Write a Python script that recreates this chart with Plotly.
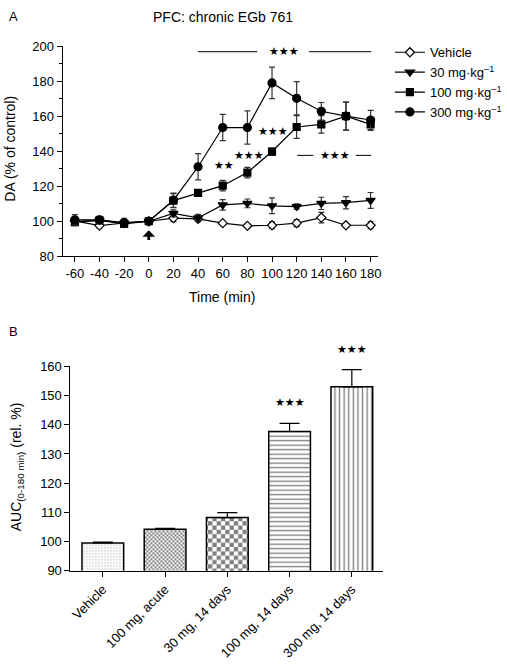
import plotly.graph_objects as go

# ---------------- data ----------------
time_min = [-60, -40, -20, 0, 20, 40, 60, 80, 100, 120, 140, 160, 180]
time_labels = ["-60", "-40", "-20", "0", "20", "40", "60", "80", "100", "120", "140", "160", "180"]

vehicle_mean = [100.2, 97.5, 99.0, 100, 101.8, 101.3, 98.9, 97.4, 97.7, 98.9, 102.1, 97.7, 97.7]
vehicle_sem = [1.5, 1.5, 1.5, 0, 2.0, 1.5, 1.0, 1.0, 2.0, 2.0, 3.0, 1.0, 2.0]

mg30_mean = [100.0, 100.5, 99.0, 100, 104.5, 101.9, 109.3, 110.2, 108.8, 108.4, 110.2, 110.6, 111.9]
mg30_sem = [2.0, 1.5, 2.0, 0, 2.0, 2.0, 3.0, 2.5, 4.5, 1.5, 3.5, 3.5, 4.5]

mg100_mean = [99.5, 100.5, 98.5, 100, 111.8, 116.2, 120.3, 127.8, 139.8, 153.8, 155.3, 160.0, 155.3]
mg100_sem = [2.0, 1.5, 2.0, 0, 4.0, 1.5, 3.0, 3.0, 2.0, 6.5, 5.0, 8.0, 3.5]

mg300_mean = [100.8, 100.8, 99.2, 100, 112.0, 131.1, 153.5, 153.5, 179.0, 170.2, 162.8, 160.0, 157.8]
mg300_sem = [3.0, 2.0, 2.5, 0, 4.0, 7.5, 7.5, 9.5, 9.0, 9.5, 5.0, 8.0, 5.5]

series_names = ["Vehicle", "30 mg·kg<sup>–1</sup>", "100 mg·kg<sup>–1</sup>", "300 mg·kg<sup>–1</sup>"]

bar_labels = ["Vehicle", "100 mg, acute", "30 mg, 14 days", "100 mg, 14 days", "300 mg, 14 days"]
auc_mean = [99.5, 104.2, 108.2, 137.7, 153.0]
auc_sem = [0.3, 0.3, 1.7, 2.8, 5.9]

# significance marks (panel A): (x, y, text)
sig_text_a = [(110, 196.8, "★★★"), (61, 131.7, "★★"), (81, 137.6, "★★★"),
              (101, 151.0, "★★★"), (151, 137.6, "★★★")]
# significance bracket lines (panel A): (x0, x1, y)
sig_lines_a = [(40, 88, 196.8), (130, 180.5, 196.8), (120.5, 133.5, 137.6), (168, 180.5, 137.6)]
# significance marks (panel B): (bar index, value, text)
sig_text_b = [(3, 147.8, "★★★"), (4, 165.8, "★★★")]

W, H = 507, 667
def px(x): return x / W
def py(y): return 1 - y / H

# panel B y axis geometry (pixels)
B_TOP, B_BOT, B_MIN, B_MAX = 367.7, 576.7, 90, 160
def b_paper_y(v):
    return py(B_BOT - (v - B_MIN) * (B_BOT - B_TOP) / (B_MAX - B_MIN))

FONT = "Liberation Sans, Arial, sans-serif"
fig = go.Figure()

styles = [
    dict(symbol="diamond", size=7, color="white"),
    dict(symbol="triangle-down", size=8, color="black"),
    dict(symbol="square", size=7, color="black"),
    dict(symbol="circle", size=8, color="black"),
]
means = [vehicle_mean, mg30_mean, mg100_mean, mg300_mean]
sems = [vehicle_sem, mg30_sem, mg100_sem, mg300_sem]
for name, m, s, st in zip(series_names, means, sems, styles):
    fig.add_trace(go.Scatter(
        x=time_min, y=m, name=name, mode="lines+markers",
        line=dict(color="black", width=1.2),
        marker=dict(symbol=st["symbol"], size=st["size"], color=st["color"],
                    line=dict(color="black", width=1.2)),
        error_y=dict(type="data", array=s, color="#333", thickness=1.2, width=3),
        xaxis="x", yaxis="y", cliponaxis=False))

patterns = [
    dict(shape=".", size=3, solidity=0.15, fgcolor="#555", bgcolor="white"),
    dict(path="M0,0H2V2H0ZM2,2H4V4H2Z", size=4, fgcolor="black", bgcolor="white"),
    dict(path="M0,0H4.3V4.3H0ZM4.3,4.3H8.6V8.6H4.3Z", size=8.6, fgcolor="black", bgcolor="white"),
    dict(shape="-", size=4.5, solidity=0.3, fgcolor="black", bgcolor="white"),
    dict(shape="|", size=4.6, solidity=0.3, fgcolor="black", bgcolor="white"),
]
for lab, v, e, pat in zip(bar_labels, auc_mean, auc_sem, patterns):
    fig.add_trace(go.Bar(
        x=[lab], y=[v], width=0.67, showlegend=False,
        marker=dict(color="white", line=dict(color="black", width=1.5), pattern=pat),
        error_y=dict(type="data", array=[e], arrayminus=[0], symmetric=False,
                     color="black", thickness=1.2, width=10),
        xaxis="x2", yaxis="y2"))

axis_common = dict(showline=True, linecolor="black", linewidth=1, ticks="outside",
                   ticklen=5, tickcolor="black", showgrid=False, zeroline=False,
                   tickfont=dict(size=13, color="black", family=FONT))

fig.update_layout(
    width=W, height=H, autosize=False,
    margin=dict(l=0, r=0, t=0, b=0),
    paper_bgcolor="white", plot_bgcolor="white",
    font=dict(family=FONT, color="black", size=13),
    barmode="overlay",
    xaxis=dict(domain=[px(62), px(380)], anchor="y", range=[-70, 186],
               tickmode="array", tickvals=time_min, ticktext=time_labels, **axis_common),
    yaxis=dict(domain=[py(255), py(40)], anchor="x", range=[80, 200], dtick=20,
               minor=dict(dtick=10, ticklen=3, ticks="outside", tickcolor="black", showgrid=False),
               **axis_common),
    xaxis2=dict(domain=[px(70), px(385)], anchor="y2", type="category",
                categoryorder="array", categoryarray=bar_labels,
                range=[-0.52, 4.5], tickangle=-45, **axis_common),
    yaxis2=dict(domain=[py(B_BOT), py(B_TOP)], anchor="x2", range=[B_MIN, B_MAX], dtick=10,
                **axis_common),
    legend=dict(x=px(392), y=py(31), xanchor="left", yanchor="top",
                font=dict(size=13, family=FONT), bgcolor="rgba(0,0,0,0)", traceorder="normal"),
    showlegend=True,
)

def pann(text, x, y, size=13, angle=0):
    return dict(text=text, x=px(x), y=py(y), xref="paper", yref="paper", showarrow=False,
                xanchor="center", yanchor="middle", textangle=angle, font=dict(size=size))

ann = [
    pann("A", 13, 10),
    pann("PFC: chronic EGb 761", 224, 10, 14),
    pann("B", 13, 332),
    pann("Time (min)", 222.7, 296.7, 14),
    pann("DA (% of control)", 9, 145, 14, -90),
    pann("AUC<sub>(0-180 min)</sub> (rel. %)", 17, 470, 14, -90),
]
for x, y, t in sig_text_a:
    ann.append(dict(text=t, x=x, y=y, xref="x", yref="y", showarrow=False,
                    xanchor="center", yanchor="middle",
                    font=dict(size=11, family="DejaVu Sans")))
for i, v, t in sig_text_b:
    ann.append(dict(text=t, x=i, y=b_paper_y(v), xref="x2", yref="paper", showarrow=False,
                    xanchor="center", yanchor="middle",
                    font=dict(size=11, family="DejaVu Sans")))
ann.append(dict(x=0, y=94.8, ax=0, ay=88.4, xref="x", yref="y", axref="x", ayref="y",
                showarrow=True, arrowhead=1, arrowsize=0.75, arrowwidth=2.8,
                arrowcolor="black", text=""))
fig.update_layout(annotations=ann)

shapes = []
for x0, x1, y in sig_lines_a:
    shapes.append(dict(type="line", x0=x0, x1=x1, y0=y, y1=y, xref="x", yref="y",
                       line=dict(color="black", width=1)))
fig.update_layout(shapes=shapes)

fig.write_html("out.html", config={"displayModeBar": False},
               post_script="document.body.style.margin='0';")
